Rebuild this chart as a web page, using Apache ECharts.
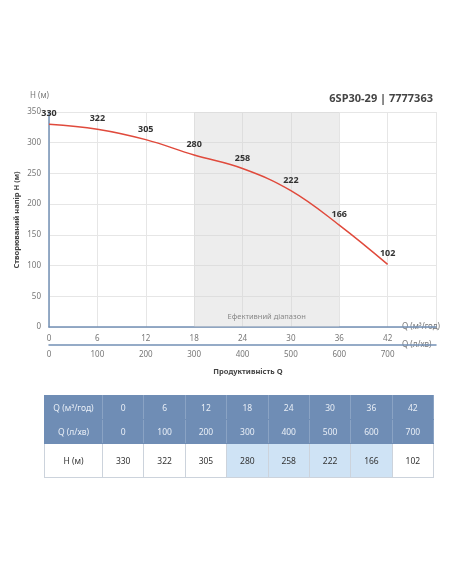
<!DOCTYPE html>
<html><head><meta charset="utf-8">
<script src="https://cdn.jsdelivr.net/npm/echarts@6/dist/echarts.min.js"></script>
<style>
body{margin:0;background:#fff;font-family:Montserrat,"Noto Sans",sans-serif}
#c{position:absolute;left:0;top:0;width:452px;height:584px}
table{position:absolute;left:44px;top:395px;width:390px;border-collapse:collapse;font-size:8.5px;font-family:"Noto Sans",sans-serif;table-layout:fixed}
td{text-align:center;border:1px solid #ccd3dc;padding:0}
tr.h td{background:#6f8db5;color:#e8eef6;height:23px;border-color:#6f8db5;border-right:1px solid #8aa3c4}
tr.v td{height:33px;color:#333}
td.e{background:#cfe3f5}
</style></head><body>
<div id="c"></div>
<table id="t"></table>
<script>
const qM3 = [0, 6, 12, 18, 24, 30, 36, 42];
const qLmin = [0, 100, 200, 300, 400, 500, 600, 700];
const head = [330, 322, 305, 280, 258, 222, 166, 102];
const effRange = [18, 36];

const chart = echarts.init(document.getElementById('c'));
const axisTxt = {color:'#777', fontSize:8, fontFamily:'Noto Sans'};
chart.setOption({
  grid:{left:49,right:16,top:112,bottom:257},
  title:{text:'6SP30-29 | 7777363',right:14,top:88,textStyle:{fontSize:11,fontWeight:'bold',color:'#444',fontFamily:'Noto Sans'}},
  xAxis:[
    {type:'value',min:0,max:48,interval:6,position:'bottom',
     axisLine:{lineStyle:{color:'#7390b5',width:1.5}},axisTick:{show:false},
     splitLine:{lineStyle:{color:'#e6e6e6'}},
     axisLabel:Object.assign({margin:8,formatter:v=>v<=42?v:''},axisTxt),
     name:'Q (м³/год)',nameGap:-34,nameLocation:'end',nameTextStyle:Object.assign({padding:[26,0,0,0],align:'left'},axisTxt)},
    {type:'value',min:0,max:800,interval:100,position:'bottom',offset:18,
     axisLine:{lineStyle:{color:'#7390b5',width:1.5}},axisTick:{show:false},splitLine:{show:false},
     axisLabel:Object.assign({margin:6,formatter:v=>v<=700?v:''},axisTxt),
     name:'Q (л/хв)',nameGap:-34,nameLocation:'end',nameTextStyle:Object.assign({padding:[24,0,0,0],align:'left'},axisTxt)}
  ],
  yAxis:{type:'value',min:0,max:350,interval:50,
    axisLine:{show:true,lineStyle:{color:'#7390b5',width:1.5}},axisTick:{show:false},
    splitLine:{lineStyle:{color:'#e6e6e6'}},axisLabel:Object.assign({margin:8},axisTxt),
    name:'H (м)',nameLocation:'end',nameGap:12,nameTextStyle:Object.assign({align:'right',padding:[0,0,0,0]},axisTxt)},
  graphic:[
    {type:'text',left:12,top:220,rotation:Math.PI/2,style:{text:'Створюваний напір H (м)',fill:'#444',font:'bold 7.5px "Noto Sans"',textAlign:'center',textVerticalAlign:'middle'},x:17,y:220,left:null,top:null},
    {type:'text',x:248,y:372,style:{text:'Продуктивність Q',fill:'#444',font:'bold 7.5px "Noto Sans"',textAlign:'center',textVerticalAlign:'middle'}}
  ],
  series:[{
    type:'line',smooth:0.4,symbol:'none',data:qM3.map((q,i)=>[q,head[i]]),
    lineStyle:{color:'#e04a3c',width:1.5},
    label:{show:true,position:'top',distance:6,color:'#333',fontWeight:'bold',fontSize:9,fontFamily:'Noto Sans'},
    markArea:{silent:true,itemStyle:{color:'rgba(210,210,210,0.4)'},
      label:{position:'insideBottom',distance:6,color:'#888',fontSize:7.5,fontFamily:'Noto Sans'},
      data:[[{xAxis:effRange[0],name:'Ефективний діапазон'},{xAxis:effRange[1]}]]}
  }]
});
// symbols hidden but labels need showSymbol; use showAllSymbol via symbolSize 0
chart.setOption({series:[{symbol:'circle',symbolSize:0}]});

let h='<colgroup><col style="width:58px">'+qM3.map(()=>'<col>').join('')+'</colgroup>';
h+='<tr class="h"><td>Q (м³/год)</td>'+qM3.map(v=>'<td>'+v+'</td>').join('')+'</tr>';
h+='<tr class="h"><td>Q (л/хв)</td>'+qLmin.map(v=>'<td>'+v+'</td>').join('')+'</tr>';
h+='<tr class="v"><td>H (м)</td>'+head.map((v,i)=>'<td class="'+(qM3[i]>=effRange[0]&&qM3[i]<=effRange[1]?'e':'')+'">'+v+'</td>').join('')+'</tr>';
document.getElementById('t').innerHTML=h;
</script></body></html>
